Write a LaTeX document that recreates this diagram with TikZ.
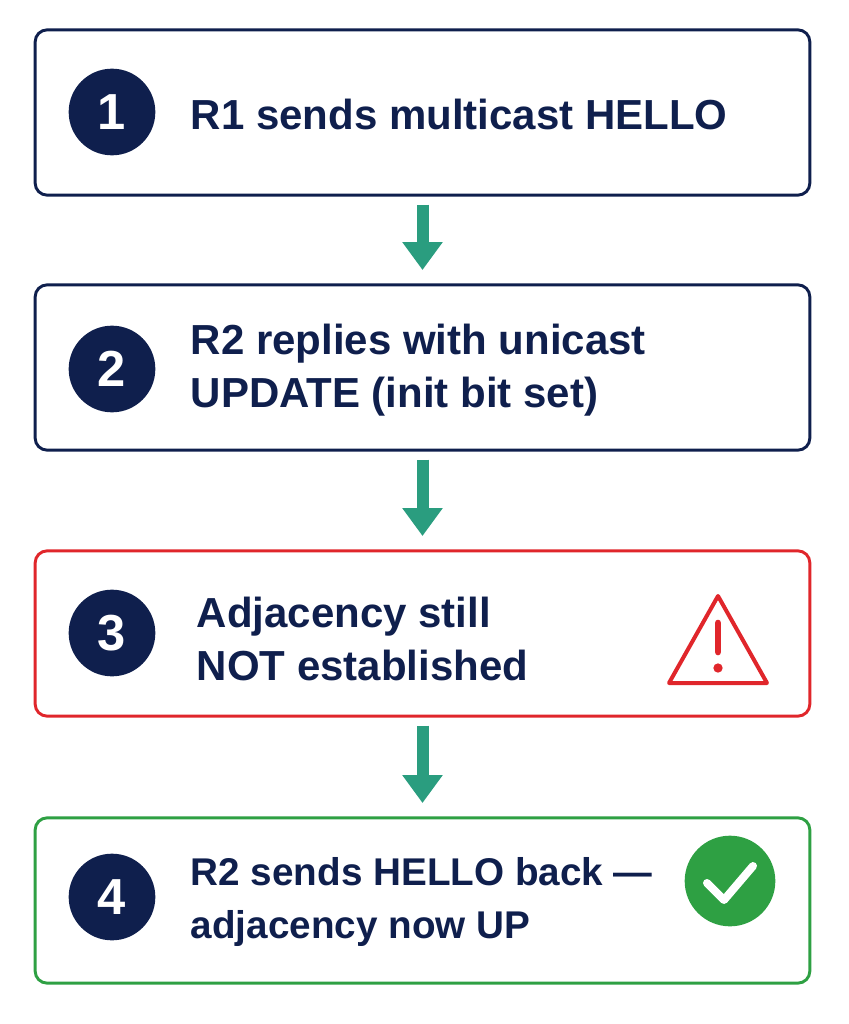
\documentclass[tikz,border=0pt]{standalone}
\usepackage{fontspec}
\setmainfont{Liberation Sans}
\usetikzlibrary{arrows.meta,positioning}
\definecolor{navy}{HTML}{0F1F4D}
\definecolor{teal}{HTML}{2A9D7F}
\definecolor{alertred}{HTML}{E0262B}
\definecolor{okgreen}{HTML}{2EA043}
\tikzset{step/.style = {draw=#1, line width=2.2pt, rounded corners=9pt, minimum width=581pt, minimum height=124pt, inner sep=0pt},
         num/.style = {circle, fill=navy, text=white, minimum size=65pt, inner sep=0pt, font=\fontsize{38}{38}\selectfont\bfseries},
         txt/.style = {anchor=west, align=left, text=navy, font=\fontsize{31.5}{40}\selectfont\bfseries},
         flow/.style = {draw=teal, line width=9pt, -{Triangle[width=29pt,length=21pt]}, shorten <=6pt, shorten >=10pt}}
\begin{document}
\begin{tikzpicture}[x=0.75pt,y=-0.75pt]
    \useasboundingbox (0,0) rectangle (849,1024);
    \node[step=navy] (b1) at (422.5,112.5) {};
    \node[step=navy] (b2) at (422.5,367.5) {};
    \node[step=alertred] (b3) at (422.5,633.5) {};
    \node[step=okgreen] (b4) at (422.5,900.5) {};

    \node[num] (n1) at (112,112) {1};
    \node[num] (n2) at (112,369) {2};
    \node[num] (n3) at (112,633) {3};
    \node[num] (n4) at (112,897) {4};

    \node[txt] (t1) at (186,114) {R1 sends multicast HELLO};
    \node[txt] (t2) at (186,370) {R2 replies with unicast\\UPDATE (init bit set)};
    \node[txt] (t3) at (192,639) {Adjacency still\\NOT established};
    \node[txt, font=\fontsize{29}{40}\selectfont\bfseries] (t4) at (186,902) {R2 sends HELLO back —\\adjacency now UP};

    % warning sign
    \draw[alertred, line width=3pt, line join=round] (718,596) -- (767,683) -- (669,683) -- cycle;
    \draw[alertred, line width=5pt, line cap=round] (718,623) -- (718,652);
    \fill[alertred] (718,668) circle (3.5pt);
    % check badge
    \fill[okgreen] (730,881) circle (34pt);
    \draw[white, line width=6pt, line cap=round, line join=round] (707,883) -- (724,900) -- (753,866);

    \draw[flow] (b1) -- (b2);
    \draw[flow] (b2) -- (b3);
    \draw[flow] (b3) -- (b4);
\end{tikzpicture}
\end{document}
